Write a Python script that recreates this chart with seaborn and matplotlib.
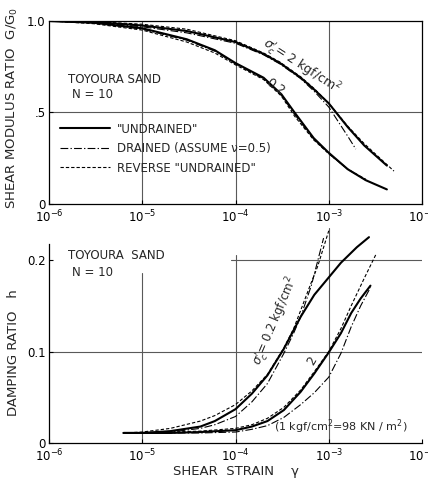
import numpy as np
import pandas as pd
import matplotlib
matplotlib.use("Agg")
import matplotlib.pyplot as plt
import seaborn as sns
from matplotlib.lines import Line2D
from matplotlib.ticker import NullLocator

# ---------------- data ----------------
# Top panel: shear modulus ratio G/G0 vs shear strain
g_und_2 = [1e-6, 3e-6, 1e-5, 3e-5, 1e-4, 2e-4, 3e-4, 5e-4, 7e-4, 1e-3, 1.6e-3, 2.4e-3, 4.2e-3]
G_und_2 = [1.0, 0.995, 0.975, 0.945, 0.885, 0.82, 0.77, 0.69, 0.625, 0.55, 0.42, 0.32, 0.21]
g_drn_2 = [1e-6, 3e-6, 1e-5, 3e-5, 1e-4, 2e-4, 3e-4, 5e-4, 7e-4, 1e-3, 1.6e-3, 1.95e-3]
G_drn_2 = [1.0, 0.992, 0.968, 0.935, 0.878, 0.815, 0.765, 0.685, 0.615, 0.53, 0.37, 0.30]
g_rev_2 = [1e-6, 3e-6, 1e-5, 3e-5, 1e-4, 2e-4, 3e-4, 5e-4, 7e-4, 1e-3, 1.6e-3, 2.4e-3, 5e-3]
G_rev_2 = [1.0, 0.997, 0.982, 0.955, 0.892, 0.825, 0.775, 0.695, 0.63, 0.55, 0.425, 0.33, 0.18]

g_und_02 = [1e-6, 3e-6, 1e-5, 3e-5, 6e-5, 1e-4, 2e-4, 3.1e-4, 4.3e-4, 6.9e-4, 1e-3, 1.6e-3, 2.5e-3, 4.2e-3]
G_und_02 = [1.0, 0.99, 0.96, 0.90, 0.84, 0.77, 0.69, 0.60, 0.50, 0.36, 0.28, 0.19, 0.13, 0.08]
g_drn_02 = [1e-6, 3e-6, 1e-5, 3e-5, 6e-5, 1e-4, 2e-4, 3.1e-4, 4.3e-4, 6.9e-4, 1e-3, 1.6e-3, 2.5e-3]
G_drn_02 = [1.0, 0.99, 0.955, 0.895, 0.835, 0.765, 0.685, 0.595, 0.49, 0.355, 0.275, 0.19, 0.13]
g_rev_02 = [1e-6, 3e-6, 1e-5, 3e-5, 6e-5, 1e-4, 2e-4, 3.1e-4, 4.3e-4, 6.9e-4, 1e-3, 1.6e-3, 2.5e-3]
G_rev_02 = [1.0, 0.985, 0.95, 0.885, 0.825, 0.76, 0.68, 0.59, 0.48, 0.35, 0.275, 0.19, 0.135]

# Bottom panel: damping ratio h vs shear strain
d_g_und_02 = [6.3e-6, 1e-5, 2e-5, 4.2e-5, 6e-5, 1e-4, 1.5e-4, 2.2e-4, 3.3e-4, 5e-4, 7e-4, 1e-3, 1.35e-3, 2e-3, 2.7e-3]
d_h_und_02 = [0.011, 0.011, 0.013, 0.018, 0.024, 0.037, 0.054, 0.074, 0.103, 0.138, 0.162, 0.181, 0.197, 0.214, 0.225]
d_g_rev_02 = [6.3e-6, 1e-5, 2e-5, 4.2e-5, 6e-5, 1e-4, 1.5e-4, 2.2e-4, 3.3e-4, 4.2e-4, 5e-4, 6.3e-4, 7.6e-4, 1e-3]
d_h_rev_02 = [0.011, 0.012, 0.016, 0.024, 0.030, 0.042, 0.057, 0.075, 0.104, 0.125, 0.145, 0.172, 0.193, 0.232]
d_g_drn_02 = [6.3e-6, 1e-5, 2e-5, 4.2e-5, 6e-5, 1e-4, 1.5e-4, 2.2e-4, 3.3e-4, 4.2e-4, 5e-4, 6.5e-4, 8.8e-4]
d_h_drn_02 = [0.011, 0.011, 0.012, 0.016, 0.020, 0.029, 0.045, 0.065, 0.098, 0.120, 0.138, 0.172, 0.224]

d_g_und_2 = [6.3e-6, 1e-5, 2e-5, 4.2e-5, 1e-4, 1.5e-4, 2.2e-4, 3.3e-4, 5e-4, 7e-4, 1e-3, 1.35e-3, 1.74e-3, 2.2e-3, 2.8e-3]
d_h_und_2 = [0.011, 0.011, 0.011, 0.012, 0.014, 0.018, 0.024, 0.036, 0.056, 0.076, 0.099, 0.120, 0.142, 0.158, 0.172]
d_g_rev_2 = [6.3e-6, 1e-5, 2e-5, 4.2e-5, 1e-4, 1.5e-4, 2.2e-4, 3.3e-4, 5e-4, 7e-4, 1e-3, 1.35e-3, 1.74e-3, 2.4e-3, 3.2e-3]
d_h_rev_2 = [0.011, 0.011, 0.012, 0.013, 0.016, 0.020, 0.027, 0.039, 0.058, 0.078, 0.100, 0.125, 0.150, 0.180, 0.206]
d_g_drn_2 = [6.3e-6, 1e-5, 2e-5, 4.2e-5, 1e-4, 1.5e-4, 2.2e-4, 3.3e-4, 5e-4, 7e-4, 1e-3, 1.35e-3, 1.74e-3, 2.2e-3, 2.8e-3]
d_h_drn_2 = [0.011, 0.011, 0.011, 0.011, 0.012, 0.015, 0.019, 0.028, 0.042, 0.055, 0.072, 0.098, 0.127, 0.150, 0.170]

xticks = [1e-6, 1e-5, 1e-4, 1e-3, 1e-2]
top_yticks = [0, 0.5, 1.0]
top_yticklabels = ["0", ".5", "1.0"]
bot_yticks = [0, 0.1, 0.2]
bot_yticklabels = ["0", "0.1", "0.2"]
legend_labels = ['"UNDRAINED"', "DRAINED (ASSUME \u03bd=0.5)", 'REVERSE "UNDRAINED"']

# ---------------- style ----------------
sns.set_style("white")
plt.rcParams["font.family"] = ["DejaVu Sans"]
FS = 8.5
SOLID = "-"
DASHDOT = (0, (7, 2, 1.2, 2))
DASHED = (0, (3, 1.8))

fig = plt.figure(figsize=(4.28, 4.87), dpi=100)
ax1 = fig.add_axes([0.1145, 0.581, 0.8715, 0.376])
ax2 = fig.add_axes([0.1145, 0.0903, 0.8715, 0.4415])

def draw(ax, x, y, ls, lw):
    df = pd.DataFrame({"x": x, "y": y})
    sns.lineplot(data=df, x="x", y="y", ax=ax, color="black", linestyle=ls,
                 linewidth=lw, estimator=None, sort=False, legend=False)

grid_kw = dict(color="0.35", lw=0.8, zorder=0)

# ---------------- top panel ----------------
for xv in [1e-5, 1e-4, 1e-3]:
    ax1.axvline(xv, **grid_kw)
ax1.axhline(0.5, **grid_kw)

draw(ax1, g_und_2, G_und_2, SOLID, 1.5)
draw(ax1, g_drn_2, G_drn_2, DASHDOT, 0.8)
draw(ax1, g_rev_2, G_rev_2, DASHED, 0.8)
draw(ax1, g_und_02, G_und_02, SOLID, 1.5)
draw(ax1, g_drn_02, G_drn_02, DASHDOT, 0.8)
draw(ax1, g_rev_02, G_rev_02, DASHED, 0.8)

ax1.set_xscale("log")
ax1.set_xlim(1e-6, 1e-2)
ax1.set_ylim(0, 1.0)
ax1.set_xticks(xticks)
ax1.xaxis.set_minor_locator(NullLocator())
ax1.set_yticks(top_yticks)
ax1.set_yticklabels(top_yticklabels)
ax1.set_xlabel("")
ax1.set_ylabel("SHEAR MODULUS RATIO  G/G$_0$", fontsize=9.5)
ax1.yaxis.set_label_coords(-0.077, 0.525)
for s in ax1.spines.values():
    s.set_color("black"); s.set_linewidth(0.9)

handles = [Line2D([], [], color="black", lw=1.5, linestyle=SOLID),
           Line2D([], [], color="black", lw=0.8, linestyle=DASHDOT),
           Line2D([], [], color="black", lw=0.8, linestyle=DASHED)]
ax1.legend(handles, legend_labels, loc="upper left", bbox_to_anchor=(0.03, 0.445),
           frameon=False, fontsize=FS, handlelength=4.2, borderpad=0,
           borderaxespad=0, labelspacing=0.55, handletextpad=0.6)

ax1.text(10**-5.80, 0.68, "TOYOURA SAND", fontsize=FS, ha="left", va="center")
ax1.text(10**-5.75, 0.60, "N = 10", fontsize=FS, ha="left", va="center")
ax1.text(5e-4, 0.75, r"$\sigma_c'$= 2 kgf/cm$^2$", fontsize=9, rotation=-33,
         ha="center", va="center", rotation_mode="anchor")
ax1.text(2.7e-4, 0.64, "0.2", fontsize=9, rotation=-35, ha="center", va="center",
         rotation_mode="anchor")

# ---------------- bottom panel ----------------
ytop = 0.235
ax2.axvline(1e-5, ymax=0.186 / ytop, **grid_kw)
ax2.axvline(1e-4, ymax=0.205 / ytop, **grid_kw)
ax2.axvline(1e-3, **grid_kw)
ax2.axhline(0.1, **grid_kw)
ax2.axhline(0.2, xmin=(np.log10(9e-5) + 6) / 4, **grid_kw)

draw(ax2, d_g_und_02, d_h_und_02, SOLID, 1.5)
draw(ax2, d_g_rev_02, d_h_rev_02, DASHED, 0.8)
draw(ax2, d_g_drn_02, d_h_drn_02, DASHDOT, 0.8)
draw(ax2, d_g_und_2, d_h_und_2, SOLID, 1.5)
draw(ax2, d_g_rev_2, d_h_rev_2, DASHED, 0.8)
draw(ax2, d_g_drn_2, d_h_drn_2, DASHDOT, 0.8)

ax2.set_xscale("log")
ax2.set_xlim(1e-6, 1e-2)
ax2.set_ylim(0, ytop)
ax2.set_xticks(xticks)
ax2.xaxis.set_minor_locator(NullLocator())
ax2.set_yticks(bot_yticks)
ax2.set_yticklabels(bot_yticklabels)
ax2.spines["top"].set_visible(False)
ax2.spines["right"].set_visible(False)
ax2.spines["left"].set_bounds(0, 0.218)
for s in ax2.spines.values():
    s.set_color("black"); s.set_linewidth(0.9)
ax2.set_ylabel("DAMPING RATIO   h", fontsize=9.5)
ax2.yaxis.set_label_coords(-0.077, 0.42)
ax2.set_xlabel("SHEAR  STRAIN    \u03b3", fontsize=9.5)
ax2.xaxis.set_label_coords(0.5, -0.1)

ax2.text(10**-5.80, 0.205, "TOYOURA  SAND", fontsize=FS, ha="left", va="center")
ax2.text(10**-5.75, 0.186, "N = 10", fontsize=FS, ha="left", va="center")
ax2.text(2.7e-4, 0.133, r"$\sigma_c'$= 0.2 kgf/cm$^2$", fontsize=8.5, rotation=67,
         ha="center", va="center", rotation_mode="anchor")
ax2.text(6.6e-4, 0.09, "2", fontsize=9, rotation=60, ha="center", va="center")
ax2.text(2.6e-4, 0.0175, "(1 kgf/cm$^2$=98 KN / m$^2$)", fontsize=8, ha="left", va="center")

for ax in (ax1, ax2):
    ax.tick_params(axis="both", which="major", direction="in", length=3,
                   labelsize=FS, colors="black", left=True, bottom=True)
    ax.tick_params(axis="y", pad=2.5)

fig.savefig("out.png", dpi=100, facecolor="white")
